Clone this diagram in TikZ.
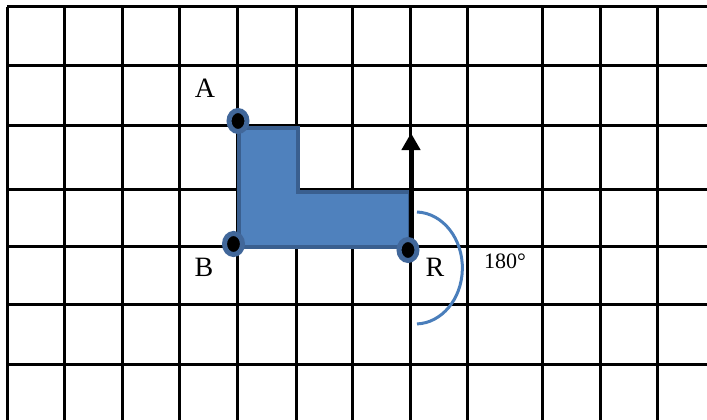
\documentclass[tikz,border=0pt]{standalone}
\usepackage{fontspec}
\setmainfont{Liberation Serif}
\usetikzlibrary{arrows.meta}
\definecolor{shapefill}{HTML}{4F81BD}
\definecolor{shapeedge}{HTML}{3A5F8F}
\definecolor{dotring}{HTML}{41679A}
\definecolor{arccol}{HTML}{4A7EBB}
\tikzset{
  gridline/.style={line width=3pt, black},
  lshape/.style={fill=shapefill, draw=shapeedge, line width=3.5pt, line join=miter},
  vertexdot/.style={fill=black, draw=dotring, line width=5pt},
  biglabel/.style={font=\fontsize{28}{30}\selectfont, anchor=base, inner sep=0pt},
  anglabel/.style={font=\fontsize{22}{24}\selectfont, anchor=base, inner sep=0pt},
  movearrow/.style={line width=5pt, -{Triangle[length=17pt,width=18pt]}},
  rotarc/.style={draw=arccol, line width=3pt}
}
\begin{document}
\begin{tikzpicture}[x=1pt,y=-1pt]
\useasboundingbox (0,0) rectangle (707,420);
% grid
\foreach \yy in {7,66,125,189,246,304,364}
  \draw[gridline] (7,\yy) -- (707,\yy);
\foreach \xx in {7,64,122,179,237,296,352,410,467,542,600,657}
  \draw[gridline] (\xx,7) -- (\xx,420);
% L shape
\draw[lshape] (239,128) -- (298,128) -- (298,192) -- (410,192) -- (410,247) -- (239,247) -- cycle;
% arrow
\coordinate (arrowstart) at (411,249);
\coordinate (arrowtip) at (411,133);
\draw[movearrow] (arrowstart) -- (arrowtip);
% rotation arc
\coordinate (arcstart) at (417,212);
\draw[rotarc] (arcstart) arc[start angle=-88, end angle=88, x radius=47, y radius=56];
% vertex dots
\path[vertexdot] (238,121) ellipse[x radius=9, y radius=10.5];
\path[vertexdot] (233.5,244) ellipse[x radius=9, y radius=10.5];
\path[vertexdot] (408,250) ellipse[x radius=9, y radius=10.5];
% labels
\node[biglabel] (labA) at (205,97) {A};
\node[biglabel] (labB) at (204,276) {B};
\node[biglabel] (labR) at (435,276) {R};
\node[anglabel] (lab180) at (505,268) {180°};
\end{tikzpicture}
\end{document}
